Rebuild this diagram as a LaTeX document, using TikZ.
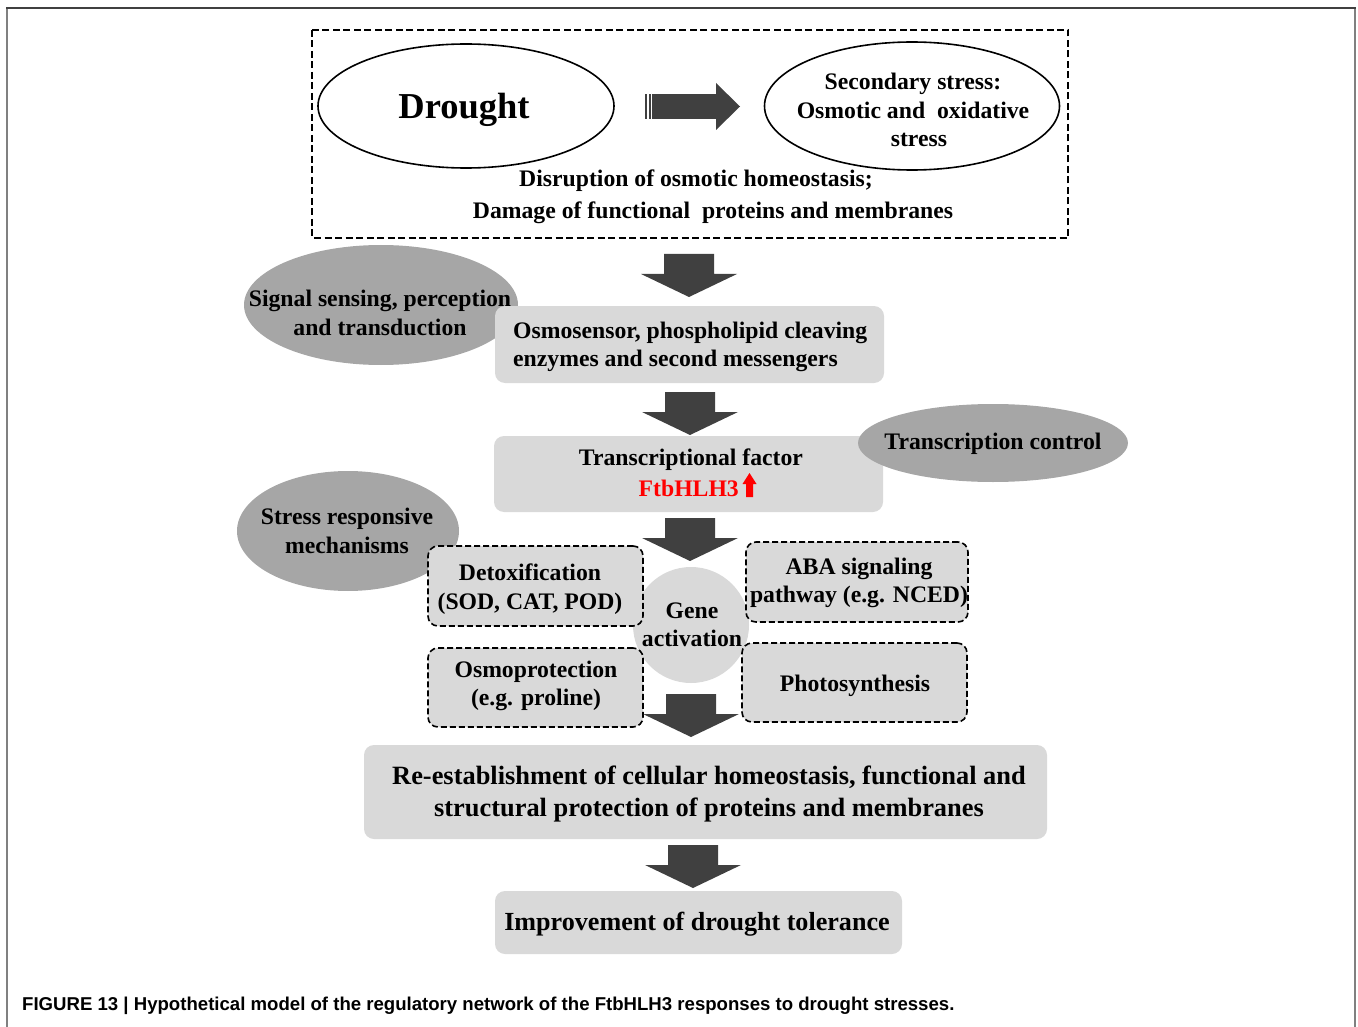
\documentclass[tikz,border=0pt]{standalone}
\usepackage{fontspec}
\setmainfont{Liberation Serif}
\newfontfamily\capfont{Liberation Sans}
\usetikzlibrary{shapes.geometric}
\definecolor{boxgray}{RGB}{217,217,217}
\definecolor{ovalgray}{RGB}{166,166,166}
\definecolor{arrgray}{RGB}{64,64,64}

\begin{document}
\begin{tikzpicture}[x=1pt,y=-1pt,
    txt/.style={font=\fontsize{23.7}{28.5}\selectfont\bfseries, align=center, inner sep=0},
    box/.style={fill=boxgray, rounded corners=10pt, inner sep=0},
    dbox/.style={box, draw=black, dash pattern=on 6pt off 3pt, line width=1.6pt},
    oval/.style={ellipse, fill=ovalgray, inner sep=0},
    wideoval/.style={ellipse, draw=black, line width=1.6pt, fill=white, inner sep=0}]
    \useasboundingbox (0,0) rectangle (1358,1027);

    % frame and caption
    \draw[gray, line width=2pt] (7,1027) -- (7,8);
    \draw[gray, line width=2pt] (1355,1027) -- (1355,8);
    \draw[black!75, line width=2pt] (6,8) -- (1356,8);
    \node[anchor=west, inner sep=0, font=\fontsize{18.6}{22}\selectfont\capfont\bfseries] (cap) at (22,1006)
        {FIGURE 13 | Hypothetical model of the regulatory network of the FtbHLH3 responses to drought stresses.};

    % stress box
    \draw[dash pattern=on 7pt off 3.5pt, line width=1.8pt] (312,30) rectangle (1068,238);
    \node[wideoval, minimum width=296, minimum height=124] (drought) at (466,106) {};
    \node[txt, font=\fontsize{36.5}{40}\selectfont\bfseries] (droughttxt) at (464,110) {Drought};
    \node[wideoval, minimum width=295, minimum height=128] (second) at (912,106) {};
    \node[txt] (secondtxt) at (913,110) {Secondary stress:\\Osmotic and\ \ oxidative\\\ \ stress};
    \fill[arrgray] (652,94) rectangle (716,119);
    \fill[arrgray] (716,83) -- (740,106.5) -- (716,130) -- cycle;
    \fill[arrgray] (645,94) rectangle (647.3,119);
    \fill[arrgray] (649,94) rectangle (650.7,119);
    \node[txt] (disrupt) at (696,181) {Disruption of osmotic homeostasis;};
    \node[txt] (damage) at (713,213) {Damage of functional\ \ proteins and membranes};

    % sensing
    \node[oval, minimum width=274, minimum height=120] (sensing) at (381,305) {};
    \node[txt] (sensingtxt) at (380,313) {Signal sensing, perception\\and transduction};
    \node[box, minimum width=389, minimum height=77] (osmo) at (689.5,344.5) {};
    \node[txt, align=left, anchor=west] (osmotxt) at (513,347) {Osmosensor, phospholipid cleaving\\enzymes and second messengers};

    % transcription
    \node[box, minimum width=389, minimum height=76] (factor) at (688.5,474) {};
    \node[txt] (factortxt) at (691,460) {Transcriptional factor};
    \node[txt, text=red, anchor=east] (ftb) at (739,488) {FtbHLH3};
    \fill[red] (742.5,484) -- (749.5,473) -- (756.5,484) -- (753,484) -- (753,497) -- (746,497) -- (746,484) -- cycle;
    \node[oval, minimum width=270, minimum height=78] (control) at (993,443) {};
    \node[txt] (controltxt) at (993,444) {Transcription control};

    % gene activation
    \node[oval, minimum width=222, minimum height=120] (mech) at (348,531) {};
    \node[txt] (mechtxt) at (347,531) {Stress responsive\\mechanisms};
    \node[circle, fill=boxgray, minimum size=116] (gene) at (691,625) {};
    \node[txt] (genetxt) at (692,625) {Gene\\activation};
    \node[dbox, minimum width=215, minimum height=80] (detox) at (535.5,586) {};
    \node[txt] (detoxtxt) at (530,589) {Detoxification\\(SOD, CAT, POD)};
    \node[dbox, minimum width=222, minimum height=80] (aba) at (857,582) {};
    \node[txt] (abatxt) at (859,583) {ABA signaling\\pathway (e.g. NCED)};
    \node[dbox, minimum width=215, minimum height=79] (osmoprot) at (535.5,687.5) {};
    \node[txt] (osmoprottxt) at (536,686) {Osmoprotection\\(e.g. proline)};
    \node[dbox, minimum width=225, minimum height=79] (photo) at (854.5,682.5) {};
    \node[txt] (phototxt) at (855,686) {Photosynthesis};

    % outcome
    \node[box, minimum width=683, minimum height=94] (reest) at (705.5,792) {};
    \node[txt, font=\fontsize{26.4}{32}\selectfont\bfseries] (reesttxt) at (709,794)
        {Re-establishment of cellular homeostasis, functional and\\structural protection of proteins and membranes};
    \node[box, minimum width=407, minimum height=63] (improve) at (698.5,922.5) {};
    \node[txt, font=\fontsize{26.1}{30}\selectfont\bfseries] (improvetxt) at (697,924)
        {Improvement of drought tolerance};

    % block arrows
    \foreach \cx/\ty in {689/254, 690/392, 690/518, 691/694, 693/845}
        \fill[arrgray] (\cx-25,\ty) -- (\cx+25,\ty) -- (\cx+25,\ty+20) -- (\cx+48,\ty+20)
            -- (\cx,\ty+43) -- (\cx-48,\ty+20) -- (\cx-25,\ty+20) -- cycle;
\end{tikzpicture}
\end{document}
